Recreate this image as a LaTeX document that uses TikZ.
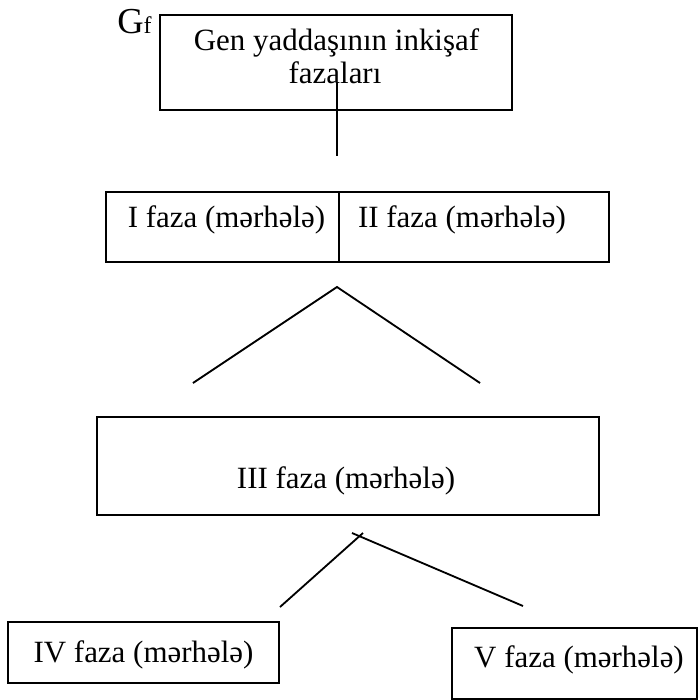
\documentclass[tikz,border=0pt]{standalone}
\usepackage{fontspec}
\setmainfont{Liberation Serif}
\usetikzlibrary{fit}
\tikzset{
  caja/.style={draw, line width=1.3pt, inner sep=0pt},
  texto/.style={anchor=base, inner sep=0pt, font=\fontsize{22}{26}\selectfont},
  linea/.style={line width=1.3pt}
}
\begin{document}
\begin{tikzpicture}[x=0.025cm,y=-0.025cm]
\useasboundingbox (0,0) rectangle (698,700);

\node[anchor=base west, inner sep=0pt, font=\fontsize{26}{28}\selectfont] (gf) at (117,33) {G{\fontsize{17}{18}\selectfont f}}; % G_f

\node[caja, fit={(160,15) (512,110)}] (cajagen) {}; % caja arriba
\node[texto] (gen1) at (336.5,50) {Gen yaddaşının inkişaf};
\node[texto] (gen2) at (335,83) {fazaları};

\coordinate (v1) at (337,83);
\coordinate (v2) at (337,156);
\draw[linea] (v1) -- (v2); % linea vertical

\node[caja, fit={(106,192) (339,262)}] (cajaI) {}; % fase I
\node[caja, fit={(339,192) (609,262)}] (cajaII) {}; % fase II
\node[texto] (faseI) at (226.5,227) {I faza (mərhələ)};
\node[texto] (faseII) at (462,227) {II faza (mərhələ)};

\coordinate (pico1) at (337,287);
\coordinate (izq1) at (193,383);
\coordinate (der1) at (480,383);
\draw[linea] (izq1) -- (pico1) -- (der1); % lineas arriba

\node[caja, fit={(97,417) (599,515)}] (cajaIII) {}; % fase III
\node[texto] (faseIII) at (346,488) {III faza (mərhələ)};

\coordinate (pico2a) at (363,533);
\coordinate (pico2b) at (352,533);
\coordinate (izq2) at (280,607);
\coordinate (der2) at (523,606);
\draw[linea] (pico2a) -- (izq2); % linea abajo 1
\draw[linea] (pico2b) -- (der2); % linea abajo 2

\node[caja, fit={(8,622) (279,683)}] (cajaIV) {}; % fase IV
\node[texto] (faseIV) at (143.5,662) {IV faza (mərhələ)};

\node[caja, fit={(452,628) (697,699)}] (cajaV) {}; % fase V
\node[texto] (faseV) at (579,667) {V faza (mərhələ)};

\end{tikzpicture}
\end{document}
